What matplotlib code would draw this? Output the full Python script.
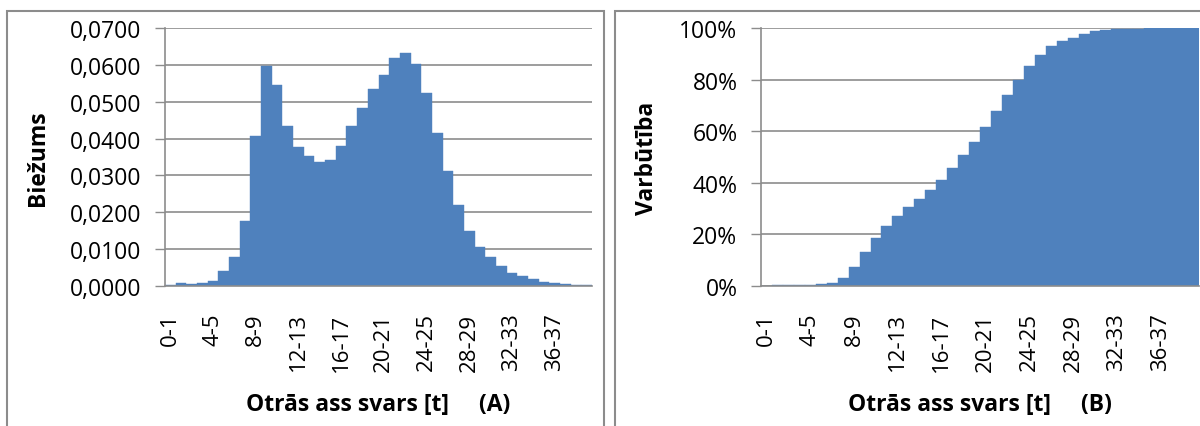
import matplotlib.pyplot as plt
from matplotlib.patches import Rectangle
from matplotlib.ticker import FuncFormatter, MultipleLocator

# Axle-weight classes, 1 t wide
bins = [f"{i}-{i + 1}" for i in range(40)]

# Relative frequency per class
freq = [0.0004, 0.0009, 0.0006, 0.0009, 0.0014, 0.0042, 0.0079, 0.0177,
        0.0406, 0.0596, 0.0546, 0.0434, 0.0378, 0.0354, 0.0336, 0.0341,
        0.0381, 0.0434, 0.0483, 0.0534, 0.0572, 0.0618, 0.0632, 0.0602,
        0.0523, 0.0414, 0.0312, 0.0219, 0.0150, 0.0106, 0.0079, 0.0053,
        0.0036, 0.0027, 0.0019, 0.0012, 0.0007, 0.0006, 0.0002, 0.0002]

# Cumulative probability per class
cum = [0.001, 0.002, 0.003, 0.004, 0.005, 0.006, 0.013, 0.031,
       0.074, 0.132, 0.187, 0.231, 0.270, 0.305, 0.339, 0.374,
       0.412, 0.457, 0.506, 0.557, 0.617, 0.679, 0.741, 0.800,
       0.852, 0.897, 0.929, 0.948, 0.963, 0.978, 0.987, 0.992,
       0.996, 0.997, 0.998, 0.999, 1.000, 1.000, 1.000, 1.000]

BLUE = '#4f81bd'
GRAY = '#8c8c8c'
FONT = ['Open Sans', 'DejaVu Sans']

plt.rcParams['font.family'] = FONT

W, H = 1200, 427
fig = plt.figure(figsize=(W / 100, H / 100), dpi=100)


def px_axes(x0, x1, y_top, y_bot):
    return fig.add_axes([x0 / W, 1 - y_bot / H, (x1 - x0) / W, (y_bot - y_top) / H])


def style_axes(ax):
    x = range(len(bins))
    ax.set_xlim(-0.5, len(bins) - 0.5)
    ax.set_xticks(list(x)[::4])
    ax.set_xticklabels(bins[::4], rotation=90, va='top')
    ax.tick_params(axis='x', length=0, pad=19, labelsize=16)
    ax.tick_params(axis='y', length=7, width=1.0, color=GRAY, pad=10, labelsize=16.5)
    for side in ('top', 'right'):
        ax.spines[side].set_visible(False)
    for side in ('left', 'bottom'):
        ax.spines[side].set_color(GRAY)
        ax.spines[side].set_linewidth(1.2)
    ax.grid(axis='y', color=GRAY, linewidth=1.2)
    ax.set_axisbelow(True)


# panel frames
fig.add_artist(Rectangle((7 / W, -0.1), (604 - 7) / W, 1.1 - 12 / H,
                         transform=fig.transFigure, fill=False,
                         edgecolor=GRAY, linewidth=1.5))
fig.add_artist(Rectangle((615 / W, -0.1), 0.5, 1.1 - 12 / H,
                         transform=fig.transFigure, fill=False,
                         edgecolor=GRAY, linewidth=1.5))

# (A) frequency histogram
ax1 = px_axes(165, 592, 29, 287)
ax1.bar(range(len(bins)), freq, width=1.0, color=BLUE, edgecolor=BLUE, linewidth=0.3)
ax1.set_ylim(0, 0.07)
ax1.yaxis.set_major_locator(MultipleLocator(0.01))
ax1.yaxis.set_major_formatter(FuncFormatter(lambda v, p: f"{v:.4f}".replace('.', ',')))
style_axes(ax1)

# (B) cumulative distribution
ax2 = px_axes(761, 1199, 29, 287)
ax2.bar(range(len(bins)), cum, width=1.0, color=BLUE, edgecolor=BLUE, linewidth=0.3)
ax2.set_ylim(0, 1.0)
ax2.yaxis.set_major_locator(MultipleLocator(0.2))
ax2.yaxis.set_major_formatter(FuncFormatter(lambda v, p: f"{v * 100:.0f}%"))
style_axes(ax2)

fig.text(38 / W, 1 - 158 / H, 'Biežums', rotation=90, ha='center', va='center',
         fontsize=16.5, fontweight='bold')
fig.text(647 / W, 1 - 158 / H, 'Varbūtība', rotation=90, ha='center', va='center',
         fontsize=16.5, fontweight='bold')
fig.text(378 / W, 1 - 405 / H, 'Otrās ass svars [t]     (A)', ha='center', va='center',
         fontsize=16.5, fontweight='bold')
fig.text(980 / W, 1 - 405 / H, 'Otrās ass svars [t]     (B)', ha='center', va='center',
         fontsize=16.5, fontweight='bold')

fig.savefig('out.png', dpi=100)
